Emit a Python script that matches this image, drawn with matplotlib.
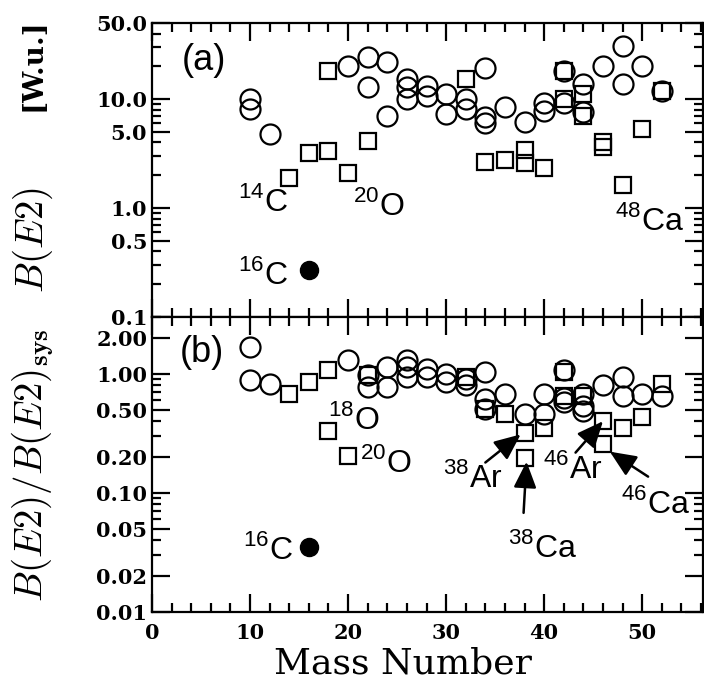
import matplotlib
matplotlib.use("Agg")
import matplotlib.pyplot as plt
from matplotlib.ticker import FixedLocator, LogLocator, FixedFormatter, NullFormatter

# ---- data ----
# panel (a): B(E2) in W.u.
a_circ_x = [10, 10, 12, 20, 22, 22, 24, 24, 26, 26, 26, 28, 28, 30, 30, 32, 32,
            34, 34, 34, 36, 38, 40, 40, 42, 42, 44, 44, 46, 48, 48, 50, 52]
a_circ_y = [10, 8.2, 4.8, 20, 24.6, 12.8, 21.7, 7.0, 15.2, 12.8, 10, 13.2, 10.7, 11.1, 7.3, 10, 8.1,
            19.4, 6.8, 6.1, 8.4, 6.2, 9.3, 7.8, 18.1, 9.3, 13.7, 7.6, 20.1, 30.5, 13.7, 20.1, 11.9]
a_sq_x = [14, 16, 18, 18, 20, 22, 32, 34, 36, 38, 38, 40, 42, 42, 44, 44, 46, 46, 48, 50, 52]
a_sq_y = [1.88, 3.23, 18, 3.37, 2.08, 4.15, 15.2, 2.66, 2.79, 3.38, 2.57, 2.31, 18.1, 10,
          11.1, 7.05, 4.04, 3.64, 1.63, 5.33, 11.9]
a_c16 = (16, 0.268)

# panel (b): B(E2)/B(E2)sys
b_circ_x = [10, 10, 12, 20, 22, 22, 24, 24, 26, 26, 26, 28, 28, 30, 30, 32, 32,
            34, 34, 34, 36, 38, 40, 40, 42, 42, 42, 44, 44, 44, 46, 48, 48, 50, 52]
b_circ_y = [1.68, 0.88, 0.82, 1.31, 0.97, 0.77, 1.14, 0.77, 1.30, 1.14, 0.94, 1.10, 0.94, 1.0, 0.85,
            0.91, 0.80, 1.03, 0.61, 0.505, 0.68, 0.46, 0.68, 0.46, 1.07, 0.63, 0.58, 0.68, 0.54, 0.49,
            0.80, 0.94, 0.655, 0.68, 0.655]
b_sq_x = [14, 16, 18, 18, 20, 22, 32, 34, 36, 38, 38, 40, 42, 42, 44, 46, 46, 48, 50, 52]
b_sq_y = [0.68, 0.85, 1.08, 0.33, 0.203, 0.97, 0.94, 0.505, 0.46, 0.32, 0.197, 0.353, 1.03,
          0.655, 0.655, 0.40, 0.255, 0.353, 0.43, 0.82]
b_c16 = (16, 0.035)

a_yticks = [0.1, 0.5, 1, 5, 10, 50]
a_ylabels = ["0.1", "0.5", "1.0", "5.0", "10.0", "50.0"]
b_yticks = [0.01, 0.02, 0.05, 0.1, 0.2, 0.5, 1, 2]
b_ylabels = ["0.01", "0.02", "0.05", "0.10", "0.20", "0.50", "1.00", "2.00"]
xticks = [0, 10, 20, 30, 40, 50]

# isotope labels: (A, element, x, y)
a_labels = [("14", "C", 8.8, 0.94), ("16", "C", 8.8, 0.20), ("20", "O", 20.5, 0.86),
            ("48", "Ca", 47.2, 0.63)]
b_labels = [("18", "O", 18.0, 0.342), ("20", "O", 21.2, 0.15), ("16", "C", 9.3, 0.028),
            ("38", "Ar", 29.7, 0.112), ("38", "Ca", 36.3, 0.029), ("46", "Ar", 39.9, 0.134),
            ("46", "Ca", 47.8, 0.0677)]
# arrows: tail (x, y) -> head (x, y)
b_arrows = [((34.0, 0.18), (37.6, 0.31)), ((37.9, 0.068), (38.2, 0.183)),
            ((43.2, 0.218), (46.0, 0.40)), ((50.6, 0.137), (46.7, 0.222))]

plt.rcParams["mathtext.fontset"] = "custom"
plt.rcParams["mathtext.rm"] = "Liberation Sans"
plt.rcParams["axes.linewidth"] = 1.6

fig = plt.figure(figsize=(7.04, 6.8), dpi=100)
ax1 = fig.add_axes([152 / 704, (680 - 317) / 680, 551 / 704, 294 / 680])
ax2 = fig.add_axes([152 / 704, (680 - 612) / 680, 551 / 704, 295 / 680])

tickfont = dict(family="DejaVu Serif", weight="bold", size=15)
labfont = dict(family="Liberation Sans", size=23)


def style(ax, yt, yl, lims):
    ax.set_yscale("log")
    ax.set_xlim(0, 56.2)
    ax.set_ylim(*lims)
    ax.xaxis.set_major_locator(FixedLocator(xticks))
    ax.xaxis.set_minor_locator(FixedLocator(list(range(0, 57, 2))))
    ax.yaxis.set_major_locator(FixedLocator(yt))
    ax.yaxis.set_major_formatter(FixedFormatter(yl))
    ax.yaxis.set_minor_locator(LogLocator(base=10, subs=range(2, 10)))
    ax.yaxis.set_minor_formatter(NullFormatter())
    ax.tick_params(which="both", direction="in", top=True, right=True, width=1.6)
    ax.tick_params(which="major", length=13)
    ax.tick_params(which="minor", length=6.5)
    ax.tick_params(axis="x", which="major", pad=8)
    for lab in ax.get_yticklabels():
        lab.set_fontproperties(matplotlib.font_manager.FontProperties(**tickfont))


style(ax1, a_yticks, a_ylabels, (0.1, 50))
style(ax2, b_yticks, b_ylabels, (0.01, 3))
ax1.tick_params(labelbottom=False)
ax2.xaxis.set_major_formatter(FixedFormatter([str(t) for t in xticks]))
for lab in ax2.get_xticklabels():
    lab.set_fontproperties(matplotlib.font_manager.FontProperties(**tickfont))

circ = dict(marker="o", ls="none", ms=14.4, mfc="none", mec="k", mew=1.6)
sq = dict(marker="s", ls="none", ms=12, mfc="none", mec="k", mew=1.6)

ax1.plot(a_circ_x, a_circ_y, **circ)
ax1.plot(a_sq_x, a_sq_y, **sq)
ax1.plot([a_c16[0]], [a_c16[1]], marker="o", ls="none", ms=13, color="k")

ax2.plot(b_circ_x, b_circ_y, **circ)
ax2.plot(b_sq_x, b_sq_y, **sq)
ax2.plot([b_c16[0]], [b_c16[1]], marker="o", ls="none", ms=13, color="k")

for a, el, x, y in a_labels:
    ax1.text(x, y, "$^{%s}$%s" % (a, el), ha="left", va="baseline", **labfont)
for a, el, x, y in b_labels:
    ax2.text(x, y, "$^{%s}$%s" % (a, el), ha="left", va="baseline", **labfont)

for tail, head in b_arrows:
    ax2.annotate("", xy=head, xytext=tail,
                 arrowprops=dict(arrowstyle="-|>,head_length=0.8,head_width=0.35",
                                 lw=1.8, color="k", shrinkA=0, shrinkB=0, mutation_scale=20))

ax1.text(0.054, 0.84, "(a)", transform=ax1.transAxes, family="Liberation Sans", size=26)
ax2.text(0.051, 0.847, "(b)", transform=ax2.transAxes, family="Liberation Sans", size=26)

# y labels
fig.text(33 / 704, 1 - 240 / 680, r"$B(E2)$", rotation=90,
         ha="center", va="center", size=28, math_fontfamily="cm")
fig.text(33 / 704, 1 - 65 / 680, "[W.u.]", rotation=90, ha="center", va="center",
         family="DejaVu Serif", weight="bold", size=20)
fig.text(33 / 704, 1 - 465 / 680, r"$B(E2)/B(E2)_{\mathbf{sys}}$", rotation=90,
         ha="center", va="center", size=28, math_fontfamily="cm")
fig.text(403 / 704, 1 - 663 / 680, "Mass Number", ha="center", va="center",
         family="DejaVu Serif", size=26)

fig.savefig("out.png", dpi=100)
